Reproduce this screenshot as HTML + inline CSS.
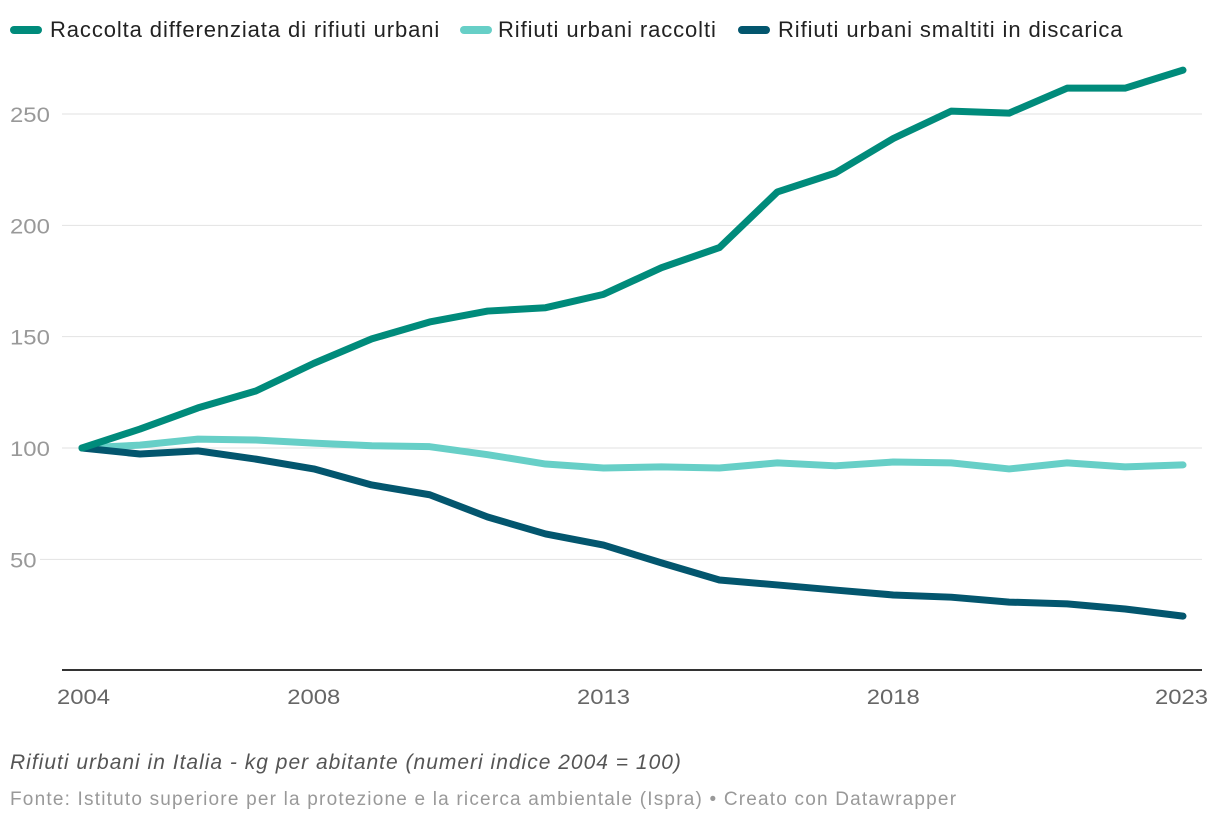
<!DOCTYPE html>
<html><head><meta charset="utf-8"><style>
body{margin:0;background:#fff;font-family:"Liberation Sans",sans-serif;}
#wrap{position:relative;width:1220px;height:824px;overflow:hidden;}
.leg{position:absolute;top:17px;font-size:22px;color:#222;display:flex;align-items:center;white-space:nowrap;letter-spacing:0.9px}
.sw{display:inline-block;width:32px;height:8px;border-radius:4px;margin-right:8px}
.note{position:absolute;left:10px;top:751px;font-size:21px;font-style:italic;color:#555;letter-spacing:1px;white-space:nowrap}
.src{position:absolute;left:10px;top:789px;font-size:19px;color:#999;letter-spacing:1.2px;white-space:nowrap}
</style></head><body><div id="wrap">
<div class="leg" style="left:10px"><span class="sw" style="background:#008b7b"></span>Raccolta differenziata di rifiuti urbani</div>
<div class="leg" style="left:460px"><span class="sw" style="background:#67cfc7"></span><span style="margin-left:-2px">Rifiuti urbani raccolti</span></div>
<div class="leg" style="left:738px"><span class="sw" style="background:#03566e"></span>Rifiuti urbani smaltiti in discarica</div>
<svg id="svg" width="1220" height="824" style="position:absolute;left:0;top:0"></svg>
<div class="note">Rifiuti urbani in Italia - kg per abitante (numeri indice 2004 = 100)</div>
<div class="src">Fonte: Istituto superiore per la protezione e la ricerca ambientale (Ispra) • Creato con Datawrapper</div>
</div>
<script>
const years=[2004,2005,2006,2007,2008,2009,2010,2011,2012,2013,2014,2015,2016,2017,2018,2019,2020,2021,2022,2023];
const differenziata=[100,108.5,118,125.6,138,149,156.6,161.5,163,169,181,190,215,223.5,239,251.3,250.4,261.6,261.6,269.7];
const raccolti=[100,101.3,104,103.6,102.2,101,100.6,97,92.8,91,91.5,91,93.3,92,93.7,93.3,90.6,93.3,91.5,92.4];
const discarica=[100,97.3,98.7,95,90.6,83.4,79,69,61.4,56.4,48.4,40.7,38.5,36.2,34,33,30.8,30,27.7,24.5];
const yTicks=[50,100,150,200,250];
const xTicks=[2004,2008,2013,2018,2023];
const NS="http://www.w3.org/2000/svg";
const svg=document.getElementById('svg');
const x=v=>82+(v-2004)*(1183-82)/19;
const y=v=>448-(v-100)*(334/150);
function mk(t,a){const e=document.createElementNS(NS,t);for(const k in a)e.setAttribute(k,a[k]);svg.appendChild(e);return e;}
yTicks.forEach(t=>{
 const s=String(t);
 const l=mk('line',{x1:s.length==2?40:62,x2:1202,y1:y(t),y2:y(t),stroke:'#e2e2e2','stroke-width':1});
 
 
 const tx=mk('text',{x:10,y:y(t)+8,'font-size':21,fill:'#999','font-family':'Liberation Sans, sans-serif',textLength:s.length*13.3,lengthAdjust:'spacingAndGlyphs'});
 tx.textContent=s;
 
 
});
const ax=mk('line',{x1:62,x2:1202,y1:670,y2:670,stroke:'#333','stroke-width':2});


xTicks.forEach((t,i)=>{
 const xx=i==0?57:(i==xTicks.length-1?1208-53:x(t)-26.5);
 const tx=mk('text',{x:xx,y:704,'font-size':21,fill:'#666','font-family':'Liberation Sans, sans-serif',textLength:53,lengthAdjust:'spacingAndGlyphs'});
 tx.textContent=t;
 
 
});
function series(vals,color,name){
 const p=mk('polyline',{points:vals.map((v,i)=>x(years[i])+','+y(v)).join(' '),fill:'none',stroke:color,'stroke-width':7,'stroke-linejoin':'round','stroke-linecap':'round'});
 
 
}
series(raccolti,'#67cfc7','line-rifiuti-raccolti');
series(discarica,'#03566e','line-discarica');
series(differenziata,'#008b7b','line-raccolta-differenziata');
</script></body></html>
